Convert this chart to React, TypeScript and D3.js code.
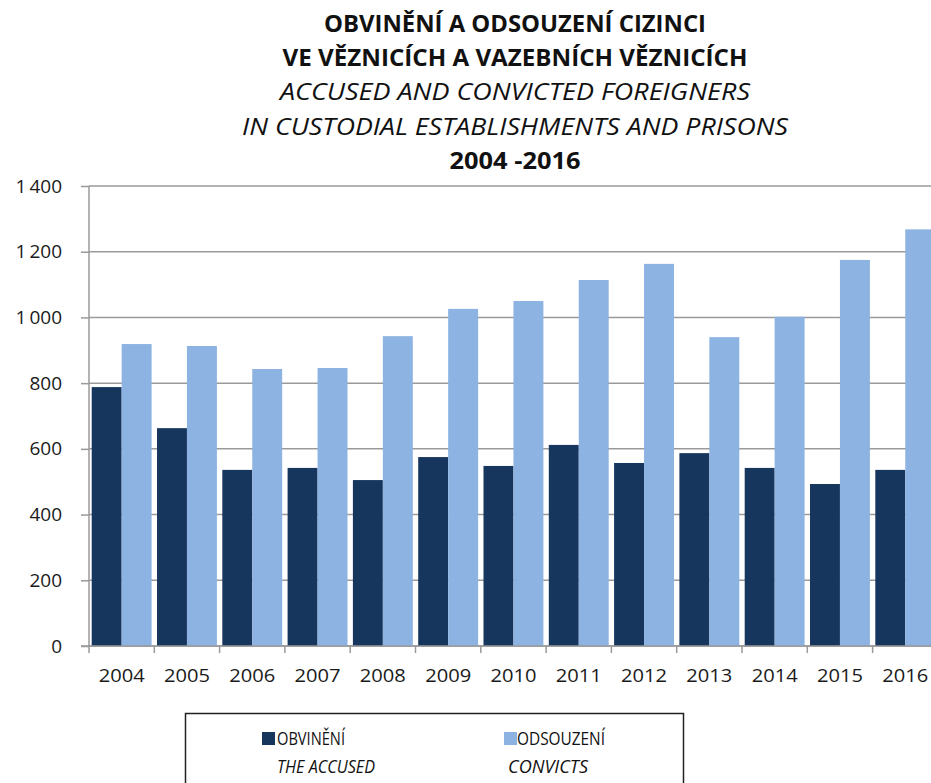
import React, { useRef, useEffect } from "react";
import * as d3 from "d3";

const years = ["2004", "2005", "2006", "2007", "2008", "2009", "2010", "2011", "2012", "2013", "2014", "2015", "2016"];
const accused = [788, 663, 536, 542, 505, 575, 548, 612, 557, 587, 542, 493, 536];
const convicts = [919, 913, 843, 846, 943, 1026, 1050, 1114, 1163, 940, 1002, 1175, 1268];
const yTicks = [0, 200, 400, 600, 800, 1000, 1200, 1400];
const titleLines = [
  { text: "OBVINĚNÍ A ODSOUZENÍ CIZINCI", bold: true, italic: false, w: 382 },
  { text: "VE VĚZNICÍCH A VAZEBNÍCH VĚZNICÍCH", bold: true, italic: false, w: 465 },
  { text: "ACCUSED AND CONVICTED FOREIGNERS", bold: false, italic: true, w: 470 },
  { text: "IN CUSTODIAL ESTABLISHMENTS AND PRISONS", bold: false, italic: true, w: 546 },
  { text: "2004 -2016", bold: true, italic: false, w: 131 },
];

const W = 931;
const H = 783;
const DARK = "#17365d";
const LIGHT = "#8db3e2";
const FONT = "'Open Sans', 'Noto Sans', sans-serif";

function App() {
  const svgRef = useRef<SVGSVGElement>(null);

  useEffect(() => {
    const svg = d3.select(svgRef.current);
    svg.selectAll("*").remove();

    const left = 89;
    const top = 186;
    const bottom = 646;
    const step = 65.3;

    const x = d3.scaleBand<string>()
      .domain(years)
      .range([left, left + step * years.length])
      .paddingInner(0)
      .paddingOuter(0);
    const sub = d3.scaleBand<string>()
      .domain(["a", "c"])
      .range([0, x.bandwidth()])
      .paddingOuter(0.09)
      .paddingInner(0);
    const y = d3.scaleLinear().domain([0, 1400]).range([bottom, top]);

    const loc = d3.formatLocale({ decimal: ",", thousands: "\u2009", grouping: [3], currency: ["", " Kč"] });
    const fmt = loc.format(",d");

    // title
    const title = svg.append("g");
    titleLines.forEach((l, i) => {
      title.append("text")
        .attr("x", 515)
        .attr("y", 32 + i * 34.2)
        .attr("text-anchor", "middle")
        .attr("font-family", FONT)
        .attr("font-size", 23)
        .attr("font-weight", l.bold ? 700 : 400)
        .attr("font-style", l.italic ? "italic" : "normal")
        .attr("textLength", l.w)
        .attr("lengthAdjust", "spacingAndGlyphs")
        .attr("fill", "#111")
        .text(l.text);
    });

    // grid + y axis
    const yAxis = d3.axisLeft(y).tickValues(yTicks).tickSize(8).tickFormat((d) => fmt(d as number));
    const gy = svg.append("g").attr("transform", `translate(${left},0)`).call(yAxis);
    gy.select(".domain").remove();
    gy.selectAll(".tick line").attr("stroke", "#9a9a9a").attr("stroke-width", 1.5);
    gy.selectAll(".tick text")
      .attr("font-family", FONT).attr("font-size", 19).attr("fill", "#1a1a1a").attr("x", -27);

    svg.append("g").selectAll("line")
      .data(yTicks)
      .join("line")
      .attr("x1", left).attr("x2", W)
      .attr("y1", (d) => y(d)).attr("y2", (d) => y(d))
      .attr("stroke", "#9a9a9a").attr("stroke-width", 1.5);

    // bars
    const groups = svg.append("g").selectAll("g")
      .data(years)
      .join("g")
      .attr("transform", (d) => `translate(${x(d)},0)`);
    groups.append("rect")
      .attr("x", sub("a")!)
      .attr("width", sub.bandwidth())
      .attr("y", (d, i) => y(accused[i]))
      .attr("height", (d, i) => bottom - y(accused[i]))
      .attr("fill", DARK);
    groups.append("rect")
      .attr("x", sub("c")!)
      .attr("width", sub.bandwidth())
      .attr("y", (d, i) => y(convicts[i]))
      .attr("height", (d, i) => bottom - y(convicts[i]))
      .attr("fill", LIGHT);

    // axes lines
    svg.append("line")
      .attr("x1", left).attr("x2", left).attr("y1", top).attr("y2", bottom + 7)
      .attr("stroke", "#9a9a9a").attr("stroke-width", 1.5);
    svg.append("line")
      .attr("x1", left - 8).attr("x2", W).attr("y1", bottom).attr("y2", bottom)
      .attr("stroke", "#9a9a9a").attr("stroke-width", 1.5);
    svg.append("g").selectAll("line")
      .data(years)
      .join("line")
      .attr("x1", (d) => x(d)! + x.bandwidth()).attr("x2", (d) => x(d)! + x.bandwidth())
      .attr("y1", bottom).attr("y2", bottom + 7)
      .attr("stroke", "#9a9a9a").attr("stroke-width", 1.5);
    svg.append("g").selectAll("text")
      .data(years)
      .join("text")
      .attr("x", (d) => x(d)! + x.bandwidth() / 2)
      .attr("y", 682)
      .attr("text-anchor", "middle")
      .attr("font-family", FONT).attr("font-size", 19).attr("fill", "#1a1a1a")
      .attr("textLength", 46).attr("lengthAdjust", "spacingAndGlyphs")
      .text((d) => d);

    // legend
    const lg = svg.append("g");
    lg.append("rect")
      .attr("x", 185.5).attr("y", 713.5).attr("width", 498).attr("height", 80)
      .attr("fill", "#fff").attr("stroke", "#222").attr("stroke-width", 1.5);
    const items = [
      { color: DARK, cz: "OBVINĚNÍ", en: "THE ACCUSED", x: 262, tx: 277, ex: 277, cw: 68, ew: 98 },
      { color: LIGHT, cz: "ODSOUZENÍ", en: "CONVICTS", x: 504, tx: 517, ex: 508, cw: 88, ew: 80 },
    ];
    items.forEach((it) => {
      lg.append("rect").attr("x", it.x).attr("y", 732).attr("width", 13).attr("height", 13).attr("fill", it.color);
      lg.append("text").attr("x", it.tx).attr("y", 745)
        .attr("font-family", FONT).attr("font-size", 18)
        .attr("textLength", it.cw).attr("lengthAdjust", "spacingAndGlyphs")
        .attr("fill", "#111").text(it.cz);
      lg.append("text").attr("x", it.ex).attr("y", 773)
        .attr("font-family", FONT).attr("font-size", 18).attr("font-style", "italic")
        .attr("textLength", it.ew).attr("lengthAdjust", "spacingAndGlyphs")
        .attr("fill", "#111").text(it.en);
    });
  }, []);

  return (
    <svg ref={svgRef} width={W} height={H}
      style={{ position: "absolute", left: 0, top: 0, background: "#fff" }} />
  );
}

export default App;
